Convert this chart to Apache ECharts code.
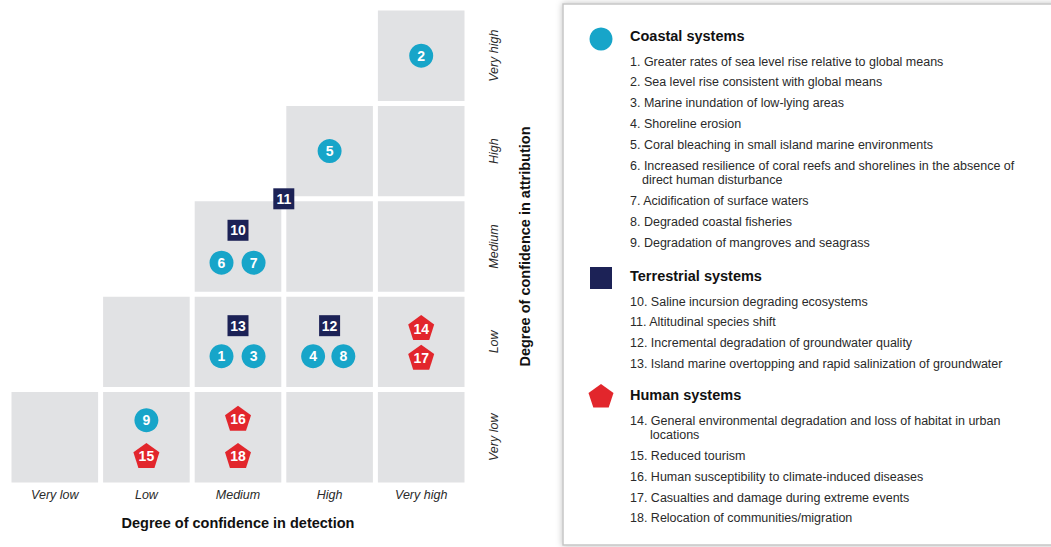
<!DOCTYPE html>
<html>
<head>
<meta charset="utf-8">
<script src="https://cdn.jsdelivr.net/npm/echarts@6/dist/echarts.min.js"></script>
<style>html,body{margin:0;padding:0;background:#fff}#c{width:1051px;height:547px}</style>
</head>
<body>
<div id="c"></div>
<script>
// ---- data ----
const levels = ['Very low', 'Low', 'Medium', 'High', 'Very high'];
const attrLevels = ['Very low', 'Low', 'Medium', 'High', 'Very high'];
const xTitle = 'Degree of confidence in detection';
const yTitle = 'Degree of confidence in attribution';
// cells present in the matrix: [detection index, attribution index]
const cells = [[4,4],[3,3],[4,3],[2,2],[3,2],[4,2],[1,1],[2,1],[3,1],[4,1],[0,0],[1,0],[2,0],[3,0],[4,0]];
// impacts: [detection, attribution, id]
const coastalPts = [[1.82,0.85,1],[4.0,4.0,2],[2.17,0.85,3],[2.82,0.85,4],[3.0,3.0,5],[1.82,1.83,6],[2.17,1.83,7],[3.15,0.85,8],[1.0,0.18,9]];
const terrestrialPts = [[2.0,2.17,10],[2.5,2.5,11],[3.0,1.17,12],[2.0,1.17,13]];
const humanPts = [[4.0,1.15,14],[1.0,-0.19,15],[2.0,0.2,16],[4.0,0.84,17],[2.0,-0.19,18]];
const groupNames = ['Coastal systems', 'Terrestrial systems', 'Human systems'];
const coastalItems = [
  '1. Greater rates of sea level rise relative to global means',
  '2. Sea level rise consistent with global means',
  '3. Marine inundation of low-lying areas',
  '4. Shoreline erosion',
  '5. Coral bleaching in small island marine environments',
  '6. Increased resilience of coral reefs and shorelines in the absence of\ndirect human disturbance',
  '7. Acidification of surface waters',
  '8. Degraded coastal fisheries',
  '9. Degradation of mangroves and seagrass'
];
const terrestrialItems = [
  '10. Saline incursion degrading ecosystems',
  '11. Altitudinal species shift',
  '12. Incremental degradation of groundwater quality',
  '13. Island marine overtopping and rapid salinization of groundwater'
];
const humanItems = [
  '14. General environmental degradation and loss of habitat in urban\nlocations',
  '15. Reduced tourism',
  '16. Human susceptibility to climate-induced diseases',
  '17. Casualties and damage during extreme events',
  '18. Relocation of communities/migration'
];

// ---- styles / layout ----
const FONT = "'Liberation Sans', Arial, sans-serif";
const CYAN = '#17a5c9', NAVY = '#1c2256', RED = '#e2262c', CELL = '#e1e2e4', TXT = '#2a2a2a';
const PENTA = 'path://M50,2 L97,36 L79,92 L21,92 L3,36 Z';
const GROUP_TITLE_Y = [36, 276, 395];

function markerSeries(name, data, symbol, size, color, labelOffset) {
  return {
    type: 'scatter', name, xAxisIndex: 1, yAxisIndex: 1, z: 5,
    data, symbol, symbolSize: size,
    itemStyle: { color, opacity: 1 },
    label: { show: true, position: 'inside', offset: labelOffset || [0, 0],
      formatter: p => String(p.value[2]), color: '#fff', fontWeight: 'bold',
      fontSize: 14, fontFamily: FONT }
  };
}

// ---- legend panel built from the arrays ----
function buildLegend() {
  const els = [];
  els.push({ type: 'rect', shape: { x: 563, y: 4, width: 520, height: 541 },
    style: { fill: '#fff', stroke: '#c6c6c6', lineWidth: 1.5, shadowBlur: 6, shadowColor: 'rgba(0,0,0,0.25)' }, z: 0 });
  const groups = [coastalItems, terrestrialItems, humanItems];
  const textX = 630;
  groups.forEach((items, gi) => {
    let y = GROUP_TITLE_Y[gi];
    if (gi === 0) els.push({ type: 'circle', shape: { cx: 601, cy: y + 3, r: 11.5 }, style: { fill: CYAN }, z: 2 });
    if (gi === 1) els.push({ type: 'rect', shape: { x: 590, y: y - 9, width: 22, height: 22 }, style: { fill: NAVY }, z: 2 });
    if (gi === 2) els.push({ type: 'polygon', shape: { points: [[601, y - 11], [613.5, y - 2], [608.7, y + 12.5], [593.3, y + 12.5], [588.5, y - 2]] }, style: { fill: RED }, z: 2 });
    els.push({ type: 'text', x: textX, y, style: { text: groupNames[gi], font: 'bold 14.5px ' + FONT, fill: '#111', textVerticalAlign: 'middle', verticalAlign: 'middle' }, z: 2 });
    y += 25.5;
    items.forEach(it => {
      const lines = it.split('\n');
      const indent = it.indexOf('.') >= 2 ? 20 : 12;
      lines.forEach((ln, li) => {
        els.push({ type: 'text', x: li === 0 ? textX : textX + indent, y,
          style: { text: ln, font: '12.5px ' + FONT, fill: TXT, textVerticalAlign: 'middle', verticalAlign: 'middle' }, z: 2 });
        if (li < lines.length - 1) y += 14.5;
      });
      y += 20.85;
    });
  });
  return els;
}

const chart = echarts.init(document.getElementById('c'), null, { renderer: 'svg' });
chart.setOption({
  animation: false,
  backgroundColor: '#fff',
  textStyle: { fontFamily: FONT },
  grid: { left: 9, top: 8, width: 458, height: 477 },
  xAxis: [
    { type: 'category', data: levels, position: 'bottom',
      axisLine: { show: false }, axisTick: { show: false }, splitLine: { show: false },
      axisLabel: { fontStyle: 'italic', fontSize: 12.5, color: TXT, margin: 3, fontFamily: FONT },
      name: xTitle, nameLocation: 'middle', nameGap: 30,
      nameTextStyle: { fontWeight: 'bold', fontSize: 14.5, color: '#111', fontFamily: FONT } },
    { type: 'value', min: -0.5, max: 4.5, show: false }
  ],
  yAxis: [
    { type: 'category', data: attrLevels, position: 'right',
      axisLine: { show: false }, axisTick: { show: false }, splitLine: { show: false },
      axisLabel: { fontStyle: 'italic', fontSize: 12.5, color: TXT, rotate: 90, margin: 20, fontFamily: FONT },
      name: yTitle, nameLocation: 'middle', nameGap: 50, nameRotate: 90,
      nameTextStyle: { fontWeight: 'bold', fontSize: 14.5, color: '#111', fontFamily: FONT } },
    { type: 'value', min: -0.5, max: 4.5, show: false, position: 'right' }
  ],
  series: [
    {
      type: 'custom', xAxisIndex: 1, yAxisIndex: 1, z: 1, data: cells,
      renderItem: (params, api) => {
        const c = api.coord([api.value(0), api.value(1)]);
        const s = api.size([1, 1]);
        const w = s[0] - 5, h = s[1] - 5;
        return { type: 'rect', shape: { x: c[0] - w / 2, y: c[1] - h / 2, width: w, height: h },
          style: { fill: CELL } };
      }
    },
    markerSeries('Coastal systems', coastalPts, 'circle', 24, CYAN),
    markerSeries('Terrestrial systems', terrestrialPts, 'rect', 21, NAVY),
    markerSeries('Human systems', humanPts, PENTA, [26, 25], RED, [0, 1])
  ],
  graphic: buildLegend()
});
</script>
</body>
</html>
